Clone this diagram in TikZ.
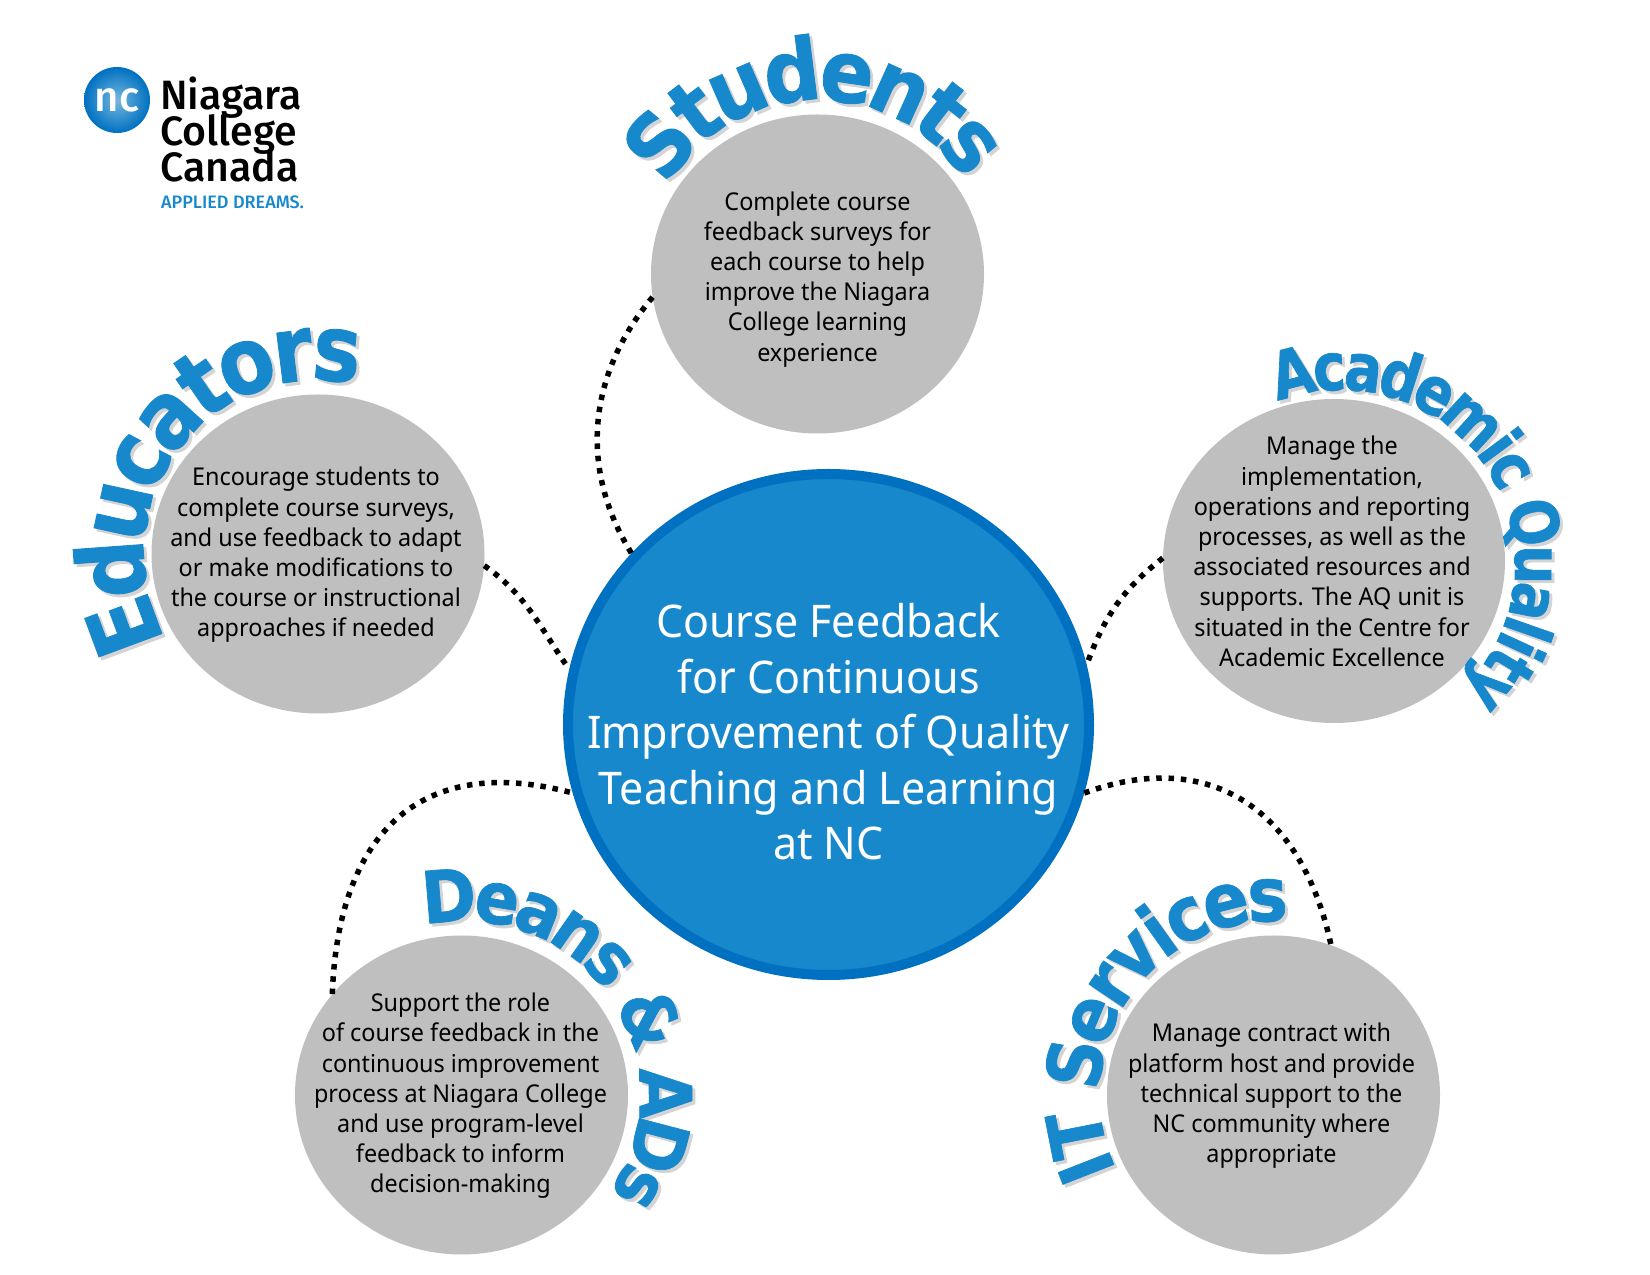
\documentclass[tikz,border=0pt]{standalone}
\usepackage{fontspec}
\usetikzlibrary{shapes.geometric,decorations.text}
\setmainfont[FakeStretch=0.955]{Noto Sans}
\newfontfamily\titlefont{DejaVu Sans Bold}
\newfontfamily\logofont{Fira Sans Medium}
\definecolor{feedbackblue}{HTML}{1888CC}
\definecolor{feedbackrim}{HTML}{0070C0}
\definecolor{discgray}{HTML}{BFBFBF}
\definecolor{titleshadow}{HTML}{D4D4D4}
\newcommand{\curvedtitle}[5]{%
  \foreach \titleshift/\titlecolor in {3/titleshadow,0/feedbackblue}
    \path[decorate,decoration={text along path,raise=-26pt,text align=center,
        text={|\fontsize{#3}{#3}\titlefont\addfontfeature{FakeStretch=#4,FakeBold=1}\color{\titlecolor}|#5}}]
      ([shift={(\titleshift,-\titleshift)}]#1) ++(#2+170:200pt) arc[start angle=#2+170,end angle=#2-170,radius=200pt];
}
\begin{document}
\begin{tikzpicture}[x=1pt,y=1pt,
    roledisc/.style={ellipse,fill=discgray,minimum width=333pt,minimum height=319pt},
    roletext/.style={inner sep=0pt,align=center,font=\fontsize{24.5}{30.2}\selectfont},
    linkdots/.style={line width=5.5pt,dash pattern=on 5.5pt off 6.8pt}]
\useasboundingbox (0,0) rectangle (1650,1275);

\node[ellipse,draw=feedbackrim,line width=10pt,fill=feedbackblue,minimum width=521pt,minimum height=501pt] (feedback) at (828.5,550.5) {};
\node[roledisc] (students) at (817.5,1001) {};
\node[roledisc] (educators) at (318,721) {};
\node[roledisc,minimum width=342pt,minimum height=324pt] (quality) at (1334,714) {};
\node[roledisc] (deans) at (461.5,180) {};
\node[roledisc] (itservices) at (1273.5,180) {};
\coordinate (qualityring) at ([shift={(7,-3)}]quality);
\coordinate (deansring) at ([shift={(4,0)}]deans);

\node[inner sep=0pt,text=white,align=center,font=\fontsize{45}{55.5}\selectfont] (feedbacktext) at ([yshift=-7.4pt]feedback)
    {Course Feedback\\for Continuous\\Improvement of Quality\\Teaching and Learning\\at NC};
\node[roletext] (studentstext) at ([yshift=-5.3pt]students) {Complete course\\feedback surveys for\\each course to help\\improve the Niagara\\College learning\\experience};
\node[roletext] (educatorstext) at ([shift={(-2,-1)}]educators) {Encourage students to\\complete course surveys,\\and use feedback to adapt\\or make modifications to\\the course or instructional\\approaches if needed};
\node[roletext] (qualitytext) at ([shift={(-2,9.5)}]quality) {Manage the\\implementation,\\operations and reporting\\processes, as well as the\\associated resources and\\supports. The AQ unit is\\situated in the Centre for\\Academic Excellence};
\node[roletext] (deanstext) at ([shift={(-1,-1)}]deans) {Support the role\\of course feedback in the\\continuous improvement\\process at Niagara College\\and use program-level\\feedback to inform\\decision-making};
\node[roletext] (itservicestext) at ([shift={(-2,-1)}]itservices) {Manage contract with\\platform host and provide\\technical support to the\\NC community where\\appropriate};

\draw[linkdots] (students.188) to[out=230,in=122] (feedback.139);
\draw[linkdots] (educators.-4) to[out=-35,in=125] (feedback.168);
\draw[linkdots] (quality.179) to[out=218,in=70] (feedback.13);
\draw[linkdots] (deans.142) to[out=88,in=165,looseness=1.3] (feedback.195);
\draw[linkdots] (feedback.-15) to[out=20,in=102,looseness=1.2] (itservices.69);

\curvedtitle{students}{91}{86}{0.92}{Students}
\curvedtitle{educators}{143}{92}{0.88}{Educators}
\curvedtitle{qualityring}{32.5}{66}{0.84}{Academic Quality}
\curvedtitle{deansring}{34.5}{72}{0.91}{Deans {\&} ADs}
\curvedtitle{itservices}{145.5}{75}{0.9}{IT Services}

\node[circle,minimum size=66pt,inner sep=-10pt,inner color=feedbackblue!60!white,outer color=feedbackrim,text=white,
    font=\fontsize{42}{42}\logofont] (ncball) at (117,1175) {nc};
\node[anchor=north west,inner sep=0pt,align=left,font=\fontsize{41}{36}\logofont\lineskiplimit-100pt\relax] (logoname) at (160,1198) {Niagara\\College\\Canada};
\node[anchor=north west,inner sep=0pt,text=feedbackblue,font=\fontsize{18}{18}\logofont] (logotag) at (161,1079) {APPLIED DREAMS.};
\end{tikzpicture}
\end{document}
